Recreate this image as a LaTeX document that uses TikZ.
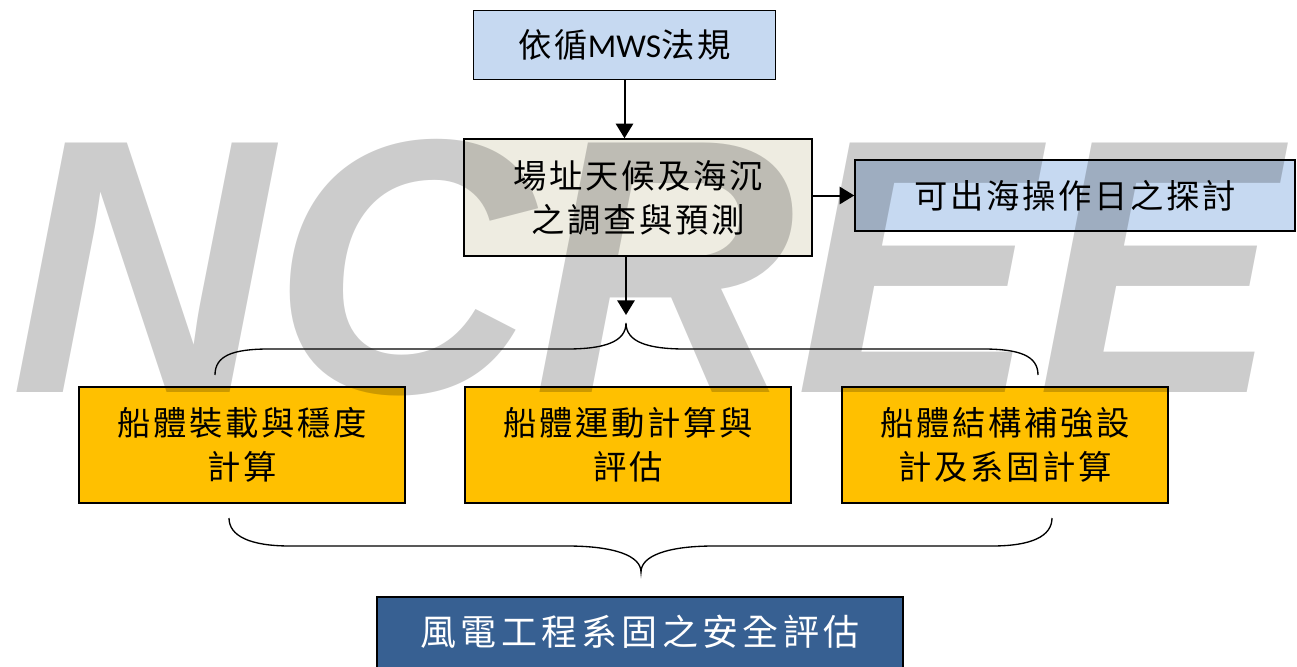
\documentclass[tikz,border=0pt]{standalone}
\usepackage{fontspec}
\setmainfont{Noto Sans CJK TC}
\newfontfamily\cjk[LetterSpace=8]{Noto Sans CJK TC}
\newfontfamily\cjkbig[LetterSpace=12]{Noto Sans CJK TC}
\newfontfamily\wmfont{Liberation Sans}
\newfontfamily\carl{Carlito}
\usetikzlibrary{arrows.meta}
\definecolor{lblue}{HTML}{C6D9F1}
\definecolor{beige}{HTML}{EEECE1}
\definecolor{orng}{HTML}{FFC000}
\definecolor{dblue}{HTML}{376092}
\tikzset{
  box/.style={draw=black, line width=1.1pt, inner sep=0pt, align=center,
    font=\cjk\fontsize{25}{33}\selectfont},
  arr/.style={line width=1.5pt, -{Triangle[length=11pt,width=13pt]}},
  brace/.style={line width=1pt},
}
\begin{document}
\begin{tikzpicture}[x=0.75pt,y=-0.75pt]
\useasboundingbox (0,0) rectangle (1297,667);
% boxes
\node[box, fill=lblue, minimum width=302*0.75pt, minimum height=69*0.75pt] (b1) at (624.5,45) {依循{\carl MWS}法規};
\node[box, fill=beige, minimum width=348*0.75pt, minimum height=117*0.75pt] (b2) at (638,197.5) {場址天候及海沉\\之調查與預測};
\node[box, fill=lblue, minimum width=440*0.75pt, minimum height=71*0.75pt] (b3) at (1075,195.5) {可出海操作日之探討};
\node[box, fill=orng, minimum width=326*0.75pt, minimum height=116*0.75pt] (o1) at (242,445) {船體裝載與穩度\\計算};
\node[box, fill=orng, minimum width=326*0.75pt, minimum height=116*0.75pt] (o2) at (628,445) {船體運動計算與\\評估};
\node[box, fill=orng, minimum width=326*0.75pt, minimum height=116*0.75pt] (o3) at (1005,445) {船體結構補強設\\計及系固計算};
\node[box, fill=dblue, text=white, font=\cjkbig\fontsize{27}{33}\selectfont, minimum width=526*0.75pt, minimum height=90*0.75pt] (fin) at (640,642) {};
\node[text=white, font=\cjkbig\fontsize{27}{33}\selectfont] (fint) at (640,632) {風電工程系固之安全評估};
% connectors
\coordinate (tipA) at (626,315);
\draw[arr] (b1.south) -- (b1.south |- b2.north);
\draw[arr] (b2.east |- b3.west) -- (b3.west);
\draw[arr] (b2.south -| tipA) -- (tipA);
% upper brace
\coordinate (ua) at (215,375);
\coordinate (ub) at (1038,375);
\coordinate (ut) at (626,323);
\draw[brace] (ua) .. controls (215,356) and (232,349) .. (269,349) -- (567,349)
  .. controls (604,349) and (626,342) .. (ut)
  .. controls (626,342) and (648,349) .. (685,349) -- (983,349)
  .. controls (1020,349) and (1038,356) .. (ub);
% lower brace
\coordinate (la) at (229,518);
\coordinate (lb) at (1052,518);
\coordinate (lt) at (641,572);
\draw[brace] (la) .. controls (229,536) and (250,546) .. (290,546) -- (567,546)
  .. controls (615,546) and (641,556) .. (lt)
  .. controls (641,556) and (667,546) .. (714,546) -- (992,546)
  .. controls (1032,546) and (1052,536) .. (lb);
% watermark
\node[anchor=base west, inner sep=0pt, opacity=0.2, text=black] (wm) at (10,392)
  {\wmfont\bfseries\itshape\fontsize{272}{272}\selectfont NCREE};
\end{tikzpicture}
\end{document}
